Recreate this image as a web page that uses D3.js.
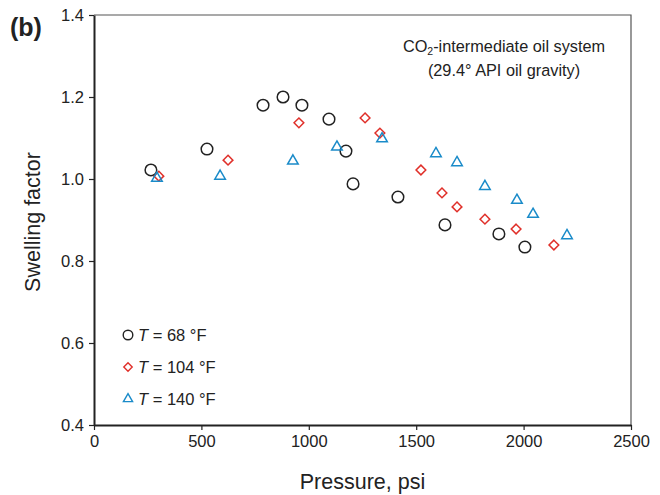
<!DOCTYPE html>
<html>
<head>
<meta charset="utf-8">
<script src="https://cdn.jsdelivr.net/npm/d3@7"></script>
<style>
  body { margin: 0; background: #fff; }
  text { font-family: "Liberation Sans", Arial, sans-serif; fill: #222; }
</style>
</head>
<body>
<div class="chart"></div>
<script>
// ---- data ----
var p68 = [265, 526, 787, 880, 968, 1094, 1173, 1206, 1415, 1634, 1885, 2006];
var sf68 = [1.022, 1.073, 1.180, 1.200, 1.180, 1.146, 1.068, 0.988, 0.956, 0.888, 0.866, 0.834];

var p104 = [302, 624, 954, 1262, 1331, 1522, 1620, 1690, 1820, 1965, 2141];
var sf104 = [1.007, 1.046, 1.137, 1.149, 1.112, 1.022, 0.966, 0.932, 0.902, 0.878, 0.839];

var p140 = [293, 587, 926, 1131, 1341, 1592, 1690, 1820, 1969, 2044, 2202];
var sf140 = [1.002, 1.007, 1.044, 1.078, 1.098, 1.062, 1.040, 0.982, 0.948, 0.914, 0.862];

var xTicks = [0, 500, 1000, 1500, 2000, 2500];
var yTicks = [0.4, 0.6, 0.8, 1.0, 1.2, 1.4];
var legendLabels = ["68 °F", "104 °F", "140 °F"];

var svgWidth = 660;
var svgHeight = 495;
var margin = { top: 15, right: 29, bottom: 70, left: 94 };
var width = svgWidth - margin.left - margin.right;
var height = svgHeight - margin.top - margin.bottom;

var svg = d3.select(".chart")
  .append("svg")
  .attr("width", svgWidth)
  .attr("height", svgHeight);

var chartGroup = svg.append("g")
  .attr("transform", `translate(${margin.left}, ${margin.top})`);

var x = d3.scaleLinear().domain([0, 2500]).range([0, width]);
var y = d3.scaleLinear().domain([0.4, 1.4]).range([height, 0]);

// top / right frame (thin grey)
chartGroup.append("path")
  .attr("d", `M0,0H${width}V${height}`)
  .attr("fill", "none")
  .attr("stroke", "#555")
  .attr("stroke-width", 1.2);

// axes
var bottomAxis = d3.axisBottom(x).tickValues(xTicks).tickSize(5).tickSizeOuter(0).tickPadding(5)
  .tickFormat(d3.format("d"));
var leftAxis = d3.axisLeft(y).tickValues(yTicks).tickSize(5).tickSizeOuter(0).tickPadding(5)
  .tickFormat(d3.format(".1f"));

var xAxis = chartGroup.append("g")
  .attr("transform", `translate(0, ${height})`)
  .call(bottomAxis);
var yAxis = chartGroup.append("g").call(leftAxis);

[xAxis, yAxis].forEach(function(ax) {
  ax.attr("font-family", null).attr("font-size", null);
  ax.select(".domain").attr("stroke", "#222").attr("stroke-width", 2);
  ax.selectAll(".tick line").attr("stroke", "#222").attr("stroke-width", 1.2);
  ax.selectAll(".tick text").attr("font-size", 16.5).style("fill", "#222");
});

// markers
var black = "#222";
var red = "#e0302a";
var blue = "#1a8bc9";

function drawCircles(xs, ys) {
  chartGroup.append("g").selectAll("circle")
    .data(xs)
    .enter()
    .append("circle")
    .attr("cx", d => x(d))
    .attr("cy", (d, i) => y(ys[i]))
    .attr("r", 5.8)
    .attr("fill", "none")
    .attr("stroke", black)
    .attr("stroke-width", 1.5);
}

var diamond = d3.symbol().type(d3.symbolDiamond2).size(60);
var triangle = d3.symbol().type(d3.symbolTriangle2).size(80);

function drawSymbols(xs, ys, sym, color) {
  chartGroup.append("g").selectAll("path")
    .data(xs)
    .enter()
    .append("path")
    .attr("transform", (d, i) => `translate(${x(d)}, ${y(ys[i])})`)
    .attr("d", sym)
    .attr("fill", "none")
    .attr("stroke", color)
    .attr("stroke-width", 1.5);
}

drawCircles(p68, sf68);
drawSymbols(p104, sf104, diamond, red);
drawSymbols(p140, sf140, triangle, blue);

// legend
var legendDiamond = d3.symbol().type(d3.symbolDiamond2).size(45);
var legendTriangle = d3.symbol().type(d3.symbolTriangle2).size(60);
var legend = chartGroup.append("g").attr("transform", "translate(34, 320)");
legendLabels.forEach(function(lab, i) {
  var row = legend.append("g").attr("transform", `translate(0, ${i * 32})`);
  if (i === 0) {
    row.append("circle").attr("r", 4.8).attr("fill", "none").attr("stroke", black).attr("stroke-width", 1.4);
  } else {
    row.append("path")
      .attr("d", i === 1 ? legendDiamond : legendTriangle)
      .attr("fill", "none")
      .attr("stroke", i === 1 ? red : blue)
      .attr("stroke-width", 1.4);
  }
  var t = row.append("text").attr("x", 10).attr("y", 6).attr("font-size", 16.5);
  t.append("tspan").attr("font-style", "italic").text("T");
  t.append("tspan").text(" = " + lab);
});

// annotation
var note = chartGroup.append("text")
  .attr("x", 410)
  .attr("y", 37)
  .attr("text-anchor", "middle")
  .attr("font-size", 16.3);
note.append("tspan").text("CO");
note.append("tspan").attr("font-size", 10.5).attr("dy", 3).text("2");
note.append("tspan").attr("dy", -3).text("-intermediate oil system");
chartGroup.append("text")
  .attr("x", 410)
  .attr("y", 61)
  .attr("text-anchor", "middle")
  .attr("font-size", 16.3)
  .text("(29.4° API oil gravity)");

// axis titles
svg.append("text")
  .attr("x", margin.left + width / 2)
  .attr("y", 489)
  .attr("text-anchor", "middle")
  .attr("font-size", 21.5)
  .text("Pressure, psi");

svg.append("text")
  .attr("transform", "rotate(-90)")
  .attr("x", -222)
  .attr("y", 40)
  .attr("text-anchor", "middle")
  .attr("font-size", 21.5)
  .text("Swelling factor");

// panel label
svg.append("text")
  .attr("x", 10)
  .attr("y", 36)
  .attr("font-size", 25)
  .attr("font-weight", "bold")
  .text("(b)");
</script>
</body>
</html>
